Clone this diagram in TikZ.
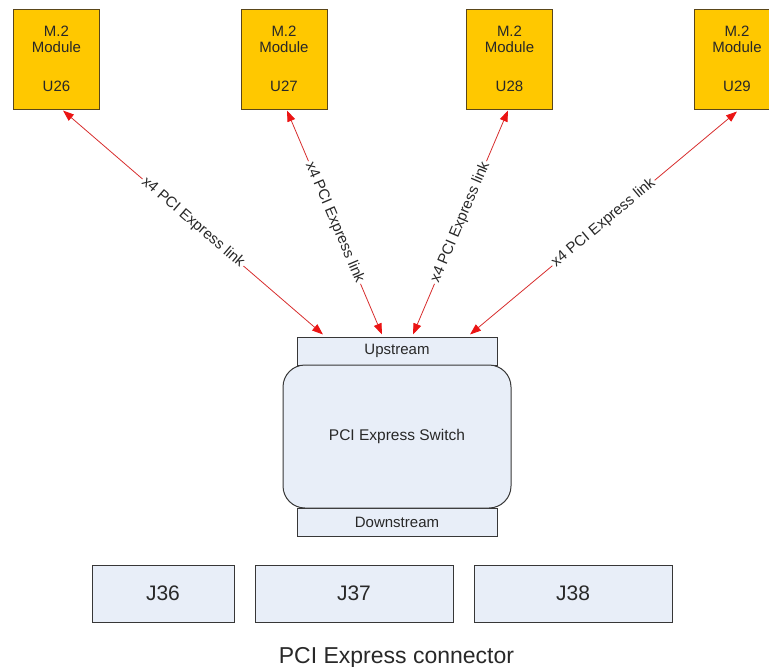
\documentclass[tikz,border=0pt]{standalone}
\usepackage{fontspec}
\setmainfont{Liberation Sans}
\usetikzlibrary{arrows.meta,calc}
\definecolor{modfill}{RGB}{255,200,0}
\definecolor{modline}{RGB}{90,70,25}
\definecolor{boxfill}{RGB}{232,238,248}
\definecolor{boxline}{RGB}{55,55,55}
\definecolor{linkred}{RGB}{215,45,45}
\definecolor{tipred}{RGB}{235,20,20}
\definecolor{txt}{RGB}{40,40,40}
\begin{document}
\begin{tikzpicture}[x=1pt,y=-1pt,
  module/.style={draw=modline,line width=1pt,fill=modfill,minimum width=86pt,
    minimum height=100pt,inner sep=0pt,align=center,text=txt,
    font=\fontsize{15}{16}\selectfont},
  portbox/.style={draw=boxline,line width=1pt,fill=boxfill,minimum width=200pt,
    minimum height=28pt,inner sep=0pt,text=txt,font=\fontsize{15}{16}\selectfont},
  switchbox/.style={draw=boxline,line width=1pt,fill=boxfill,rounded corners=22pt,
    minimum width=228pt,minimum height=143pt,inner sep=0pt,text=txt,
    font=\fontsize{15.5}{17}\selectfont},
  connbox/.style={draw=boxline,line width=1pt,fill=boxfill,minimum height=57pt,
    inner sep=0pt,text=txt,font=\fontsize{21}{24}\selectfont},
  link/.style={draw=linkred,line width=0.8pt,
    {Triangle[length=11pt,width=8pt,fill=tipred,color=tipred]}-{Triangle[length=11pt,width=8pt,fill=tipred,color=tipred]}},
  linklabel/.style={fill=white,inner sep=1.5pt,sloped,midway,text=txt,
    font=\fontsize{15}{16}\selectfont}
]
\useasboundingbox (0,0) rectangle (769,667);
\begin{scope}
\clip (0,0) rectangle (769,667);
\node[module] (u26) at (56.5,59) {M.2\\Module\\[23pt]U26};
\node[module] (u27) at (284,59) {M.2\\Module\\[23pt]U27};
\node[module] (u28) at (509.5,59) {M.2\\Module\\[23pt]U28};
\node[module] (u29) at (737,59) {M.2\\Module\\[23pt]U29};

\node[portbox] (up) at (397,351) {Upstream};
\node[portbox] (down) at (397,522) {Downstream};
\node[switchbox] (sw) at (397,436.5) {PCI Express Switch};

\node[connbox,minimum width=142pt] (j36) at (163,593.5) {J36};
\node[connbox,minimum width=198pt] (j37) at (354,593.5) {J37};
\node[connbox,minimum width=198pt] (j38) at (573,593.5) {J38};
\node[anchor=base,text=txt,font=\fontsize{23}{26}\selectfont,inner sep=0pt] (cap) at (396.5,663) {PCI Express connector};

\draw[link] ([xshift=6.5pt,yshift=-1pt]u26.south) -- node[linklabel] {x4 PCI Express link} ([xshift=-74pt,yshift=2pt]up.north);
\draw[link] ([xshift=3pt,yshift=-1pt]u27.south) -- node[linklabel] {x4 PCI Express link} ([xshift=-15pt,yshift=2pt]up.north);
\draw[link] ([xshift=-1.5pt,yshift=-1pt]u28.south) -- node[linklabel] {x4 PCI Express link} ([xshift=16pt,yshift=2pt]up.north);
\draw[link] ([xshift=0pt,yshift=-2pt]u29.south) -- node[linklabel] {x4 PCI Express link} ([xshift=73pt,yshift=2pt]up.north);
\end{scope}
\end{tikzpicture}
\end{document}
